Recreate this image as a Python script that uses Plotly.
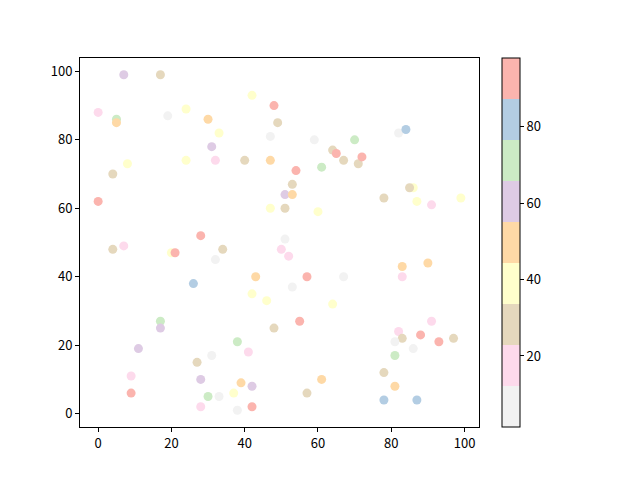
import plotly.graph_objects as go

# Pastel1_r bin representatives (value ranges 1..98 split into 9 bins)
GRY, PNK, TAN, YEL, ORG, PUR, GRN, BLU, RED = 6, 17, 28, 38, 49, 60, 71, 81, 92

x_vals = [7, 17, 42, 48, 0, 5, 5, 19, 24, 30, 49, 33, 47, 31, 8, 4, 24, 32, 40, 47, 0, 47, 28,
          59, 70, 82, 84, 64, 65, 67, 71, 72, 61, 54, 53, 51, 53, 51, 60, 51, 78, 86, 85, 87, 91, 99,
          4, 7, 20, 21, 34, 32, 50, 26, 43, 42, 46, 48, 17, 17, 11, 38, 41, 31, 27, 9, 9, 28, 39, 42,
          37, 30, 33, 28, 38, 42,
          52, 57, 67, 53, 64, 55, 61, 57, 83, 90, 83, 91, 82, 83, 81, 88, 93, 97, 86, 81, 78, 81, 78, 87]
y_vals = [99, 99, 93, 90, 88, 86, 85, 87, 89, 86, 85, 82, 81, 78, 73, 70, 74, 74, 74, 74, 62, 60, 52,
          80, 80, 82, 83, 77, 76, 74, 73, 75, 72, 71, 67, 64, 64, 60, 59, 51, 63, 66, 66, 62, 61, 63,
          48, 49, 47, 47, 48, 45, 48, 38, 40, 35, 33, 25, 27, 25, 19, 21, 18, 17, 15, 11, 6, 10, 9, 8,
          6, 5, 5, 2, 1, 2,
          46, 40, 40, 37, 32, 27, 10, 6, 43, 44, 40, 27, 24, 22, 21, 23, 21, 22, 19, 17, 12, 8, 4, 4]
c_vals = [PUR, TAN, YEL, RED, PNK, GRN, ORG, GRY, YEL, ORG, TAN, YEL, GRY, PUR, YEL, TAN, YEL, PNK, TAN, ORG, RED, YEL, RED,
          GRY, GRN, GRY, BLU, TAN, RED, TAN, TAN, RED, GRN, RED, TAN, PUR, ORG, TAN, YEL, GRY, TAN, YEL, TAN, YEL, PNK, YEL,
          TAN, PNK, YEL, RED, TAN, GRY, PNK, BLU, ORG, YEL, YEL, TAN, GRN, PUR, PUR, GRN, PNK, GRY, TAN, PNK, RED, PUR, ORG, PUR,
          YEL, GRN, GRY, PNK, GRY, RED,
          PNK, RED, GRY, GRY, YEL, RED, ORG, TAN, ORG, ORG, PNK, PNK, PNK, TAN, GRY, RED, RED, TAN, GRY, GRN, TAN, ORG, BLU, BLU]

cbar_ticks = [20, 40, 60, 80]

pastel1_r = ["#f2f2f2", "#fddaec", "#e5d8bd", "#ffffcc", "#fed9a6",
             "#decbe4", "#ccebc5", "#b3cde3", "#fbb4ae"]
cscale = []
for i, col in enumerate(pastel1_r):
    cscale.append([i / 9, col])
    cscale.append([(i + 1) / 9, col])

FONT = "Noto Sans CJK SC"

fig = go.Figure(go.Scatter(
    x=x_vals, y=y_vals, mode="markers",
    marker=dict(
        size=9, color=c_vals, colorscale=cscale, cmin=1.4, cmax=98,
        line=dict(width=0),
        colorbar=dict(
            x=1.058, xanchor="left", xref="paper", y=0, yanchor="bottom", yref="paper",
            xpad=0, ypad=0,
            len=1, lenmode="fraction", thickness=18, thicknessmode="pixels",
            outlinecolor="black", outlinewidth=1,
            tickvals=cbar_ticks, ticks="outside", ticklen=4, tickcolor="black",
            tickfont=dict(family=FONT, size=13, color="black"),
        ),
    ),
    showlegend=False,
))

axis_common = dict(
    showline=True, linecolor="black", linewidth=1, mirror=True,
    ticks="outside", ticklen=4, tickcolor="black", showgrid=False, zeroline=False,
    tickfont=dict(family=FONT, size=13, color="black"),
)
fig.update_xaxes(range=[-4.95, 103.95], tickvals=[0, 20, 40, 60, 80, 100], **axis_common)
fig.update_yaxes(range=[-3.9, 103.9], tickvals=[0, 20, 40, 60, 80, 100], **axis_common)

fig.update_layout(
    width=624, height=464,
    margin=dict(l=72, r=153, t=50, b=45, autoexpand=False),
    paper_bgcolor="white", plot_bgcolor="white",
    font=dict(family=FONT, color="black"),
)

fig.write_html("out.html")
